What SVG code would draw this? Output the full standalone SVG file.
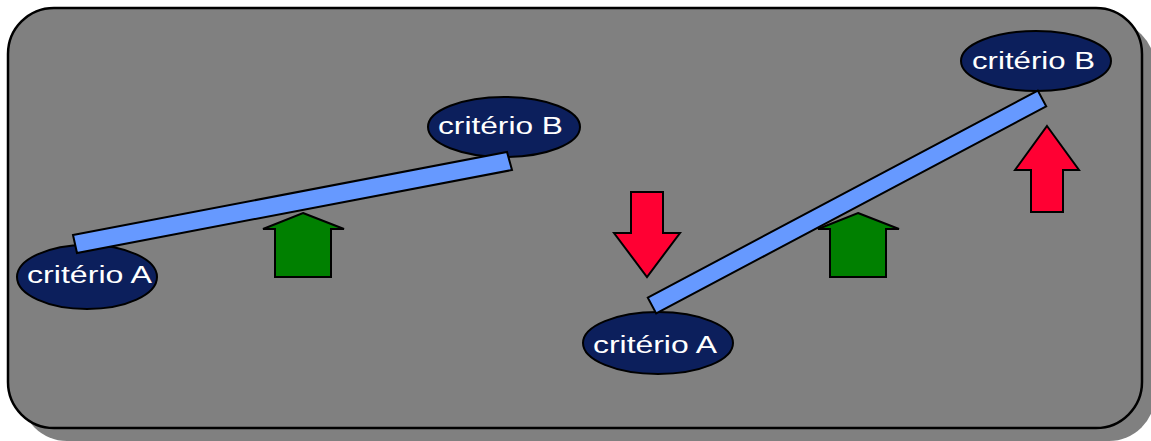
<svg xmlns="http://www.w3.org/2000/svg" width="1151" height="441" viewBox="0 0 1151 441">
  <style>
    .panel { fill: #808080; stroke: #000; stroke-width: 2.5; }
    .shadow { fill: #808080; }
    .node ellipse { fill: #0c1f5c; stroke: #000; stroke-width: 2; }
    .node text { fill: #fff; font-family: "Liberation Sans", Arial, sans-serif; font-size: 23px; }
    .beam { fill: #6699ff; stroke: #000; stroke-width: 2; stroke-linejoin: miter; }
    .green { fill: #008000; stroke: #000; stroke-width: 2; }
    .red { fill: #ff0033; stroke: #000; stroke-width: 2; }
  </style>
  <rect class="shadow" x="21" y="21" width="1134" height="420" rx="46" ry="46"/>
  <rect class="panel" x="8" y="8" width="1134" height="420" rx="46" ry="46"/>

  <g id="left-criterio-a" class="node">
    <ellipse cx="87" cy="277" rx="70" ry="32"/>
    <text x="27" y="283" textLength="125" lengthAdjust="spacingAndGlyphs">critério A</text>
  </g>
  <g id="left-criterio-b" class="node">
    <ellipse cx="504" cy="127" rx="76" ry="30"/>
    <text x="438" y="134" textLength="125" lengthAdjust="spacingAndGlyphs">critério B</text>
  </g>
  <g id="right-criterio-a" class="node">
    <ellipse cx="658" cy="343" rx="75" ry="31"/>
    <text x="593" y="353" textLength="124" lengthAdjust="spacingAndGlyphs">critério A</text>
  </g>
  <g id="right-criterio-b" class="node">
    <ellipse cx="1036" cy="61" rx="75" ry="30"/>
    <text x="972" y="69" textLength="123" lengthAdjust="spacingAndGlyphs">critério B</text>
  </g>

  <g id="connectors">
    <polygon class="beam" points="73,235 507,152 512,170 77,253"/>
    <polygon class="beam" points="647.8,297.6 1037.8,90.6 1046.2,106.4 656.2,313.4"/>
  </g>

  <g id="arrows">
    <polygon class="green" points="303,213 344,229 331,229 331,277 275,277 275,229 263,229"/>
    <polygon class="green" points="858,213 899,229 886,229 886,277 830,277 830,229 818,229"/>
    <polygon class="red" points="631,192 663,192 663,233 680,233 647,277 614,233 631,233"/>
    <polygon class="red" points="1047,126 1079,170 1063,170 1063,212 1031,212 1031,170 1015,170"/>
  </g>
</svg>
